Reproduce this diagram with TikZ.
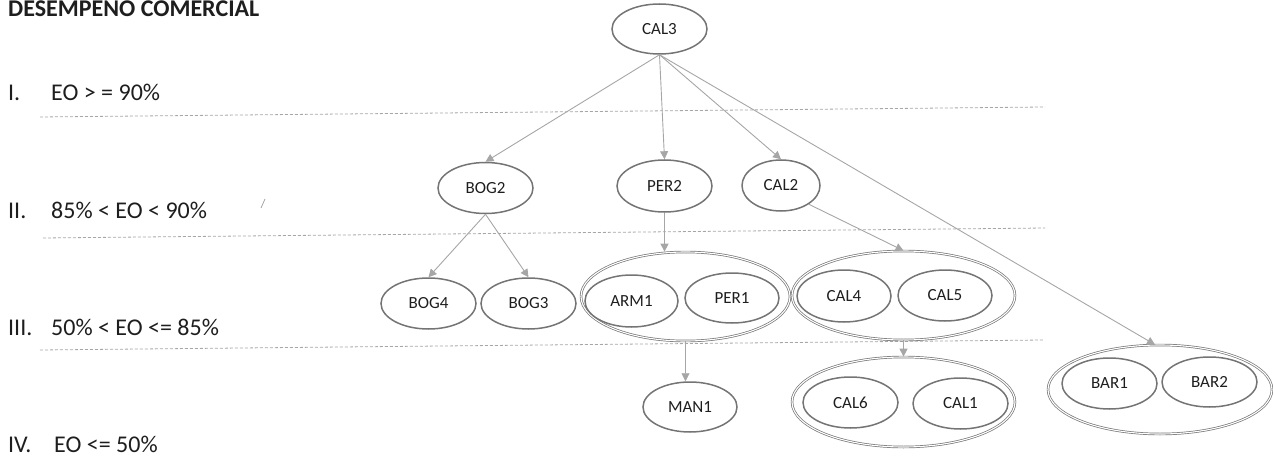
\documentclass[tikz,border=0pt]{standalone}
\usepackage{fontspec}
\setmainfont{Carlito}
\usetikzlibrary{shapes.geometric,arrows.meta}
\definecolor{ringgray}{HTML}{747474}
\definecolor{linkgray}{HTML}{A6A6A6}
\definecolor{inkdark}{HTML}{1E1E1E}
\tikzset{
  office/.style={ellipse,draw=ringgray,line width=1.5pt,inner sep=0pt,
    minimum width=95pt,minimum height=51pt,text=inkdark,font=\fontsize{17}{17}\selectfont},
  cluster/.style={ellipse,draw=ringgray,line width=0.7pt,double,double distance=1.1pt,
    inner sep=0pt},
  link/.style={draw=linkgray,line width=0.9pt,-{Triangle[length=8pt,width=8pt]}},
  level/.style={draw=linkgray,line width=0.8pt,dash pattern=on 3pt off 2pt},
  lbl/.style={anchor=base west,inner sep=0pt,text=inkdark,font=\fontsize{24}{24}\selectfont}
}
\begin{document}
\begin{tikzpicture}[x=1pt,y=-1pt]
\useasboundingbox (0,0) rectangle (1273,457);

% heading
\node[lbl,font=\fontsize{24}{24}\selectfont\bfseries] (title) at (8,16.5) {DESEMPEÑO COMERCIAL};

% level labels
\node[lbl] (n1) at (8,101) {I.};
\node[lbl] (t1) at (51,101) {EO > = 90\%};
\node[lbl] (n2) at (8,218) {II.};
\node[lbl] (t2) at (51,218) {85\% < EO < 90\%};
\node[lbl] (n3) at (8,335) {III.};
\node[lbl] (t3) at (51,335) {50\% < EO <= 85\%};
\node[lbl] (n4) at (8,452) {IV.};
\node[lbl] (t4) at (54,452) {EO <= 50\%};

% level separators
\coordinate (s1a) at (40,117);  \coordinate (s1b) at (1045,107);
\coordinate (s2a) at (43,238);  \coordinate (s2b) at (1045,228);
\coordinate (s3a) at (40,350);  \coordinate (s3b) at (1043,340);
\draw[level] (s1a) -- (s1b);
\draw[level] (s2a) -- (s2b);
\draw[level] (s3a) -- (s3b);

% stray pen mark
\draw[linkgray,line width=0.8pt] (265,199) -- (261,208);

% offices
\node[office,minimum height=50pt] (cal3) at (659.5,29) {CAL3};
\node[office] (bog2) at (485.5,188) {BOG2};
\node[office,minimum height=52pt] (per2) at (664.5,186) {PER2};
\node[office,minimum width=78pt] (cal2) at (781,185.5) {CAL2};

\node[office] (bog4) at (428.5,303.5) {BOG4};
\node[office] (bog3) at (528.5,303.5) {BOG3};

\node[cluster,minimum width=209pt,minimum height=89pt] (gArm) at (685.5,296.5) {};
\node[office,minimum width=93pt,minimum height=52pt] (arm1) at (631.5,301) {ARM1};
\node[office,minimum width=94pt,minimum height=50pt] (per1) at (732,298) {PER1};

\node[cluster,minimum width=223pt,minimum height=89pt] (gCal45) at (903.5,295.5) {};
\node[office,minimum width=94pt,minimum height=52pt] (cal4) at (844,296) {CAL4};
\node[office,minimum width=94pt] (cal5) at (945,295.5) {CAL5};

\node[office,minimum width=94pt,minimum height=50pt] (man1) at (690,407) {MAN1};

\node[cluster,minimum width=223pt,minimum height=90pt] (gCal61) at (903.5,402) {};
\node[office] (cal6) at (850.5,402.5) {CAL6};
\node[office] (cal1) at (960.5,403.5) {CAL1};

\node[cluster,minimum width=224pt,minimum height=89pt] (gBar) at (1160,389.5) {};
\node[office] (bar1) at (1109.5,383.5) {BAR1};
\node[office,minimum height=50pt] (bar2) at (1209.5,382) {BAR2};

% links
\draw[link] (cal3.south) -- (bog2.north);
\draw[link] (cal3.south) -- (per2.north);
\draw[link] (cal3.south) -- (cal2.north);
\draw[link] (cal3.south) -- ([xshift=-5pt]gBar.north);
\draw[link] (bog2.south) -- (bog4.north);
\draw[link] (bog2.south) -- (bog3.north);
\draw[link] (per2.south) -- (per2.south |- gArm.north);
\draw[link] (cal2.-34) -- (gCal45.north);
\draw[link] (gArm.south) -- (gArm.south |- man1.north);
\draw[link] (gCal45.south) -- (gCal61.north);
\end{tikzpicture}
\end{document}
